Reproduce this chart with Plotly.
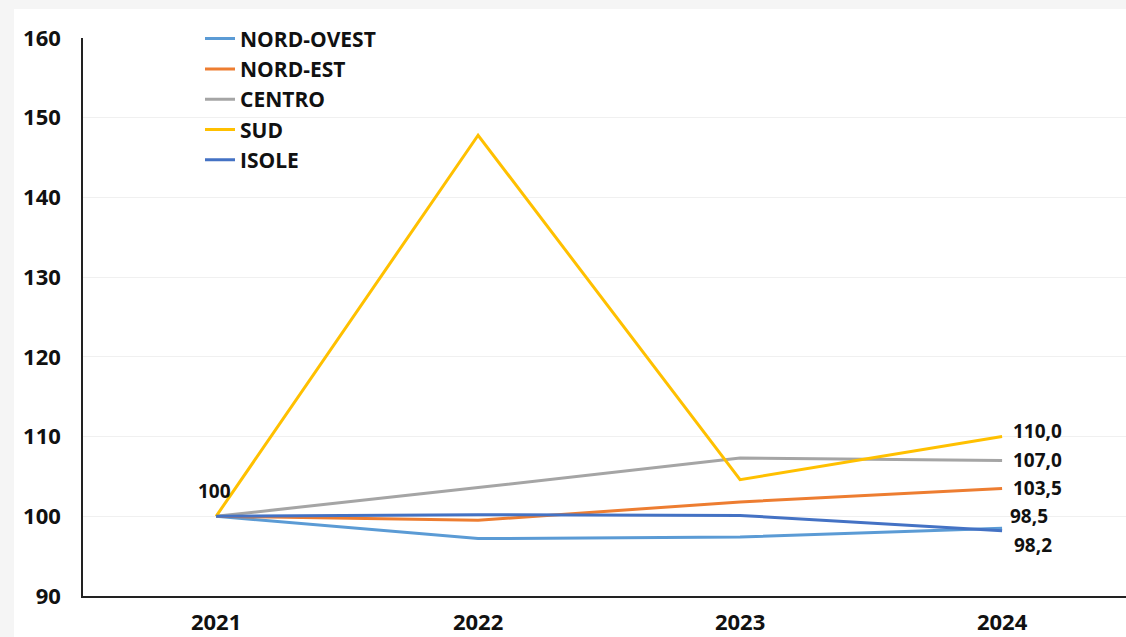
import plotly.graph_objects as go

years = ["2021", "2022", "2023", "2024"]
nord_ovest = [100, 97.2, 97.4, 98.5]
nord_est = [100, 99.5, 101.8, 103.5]
centro = [100, 103.6, 107.3, 107.0]
sud = [100, 147.8, 104.6, 110.0]
isole = [100, 100.2, 100.1, 98.2]

series = [
    ("NORD-OVEST", nord_ovest, "#5B9BD5"),
    ("NORD-EST", nord_est, "#ED7D31"),
    ("CENTRO", centro, "#A5A5A5"),
    ("SUD", sud, "#FFC000"),
    ("ISOLE", isole, "#4472C4"),
]

end_labels = [
    ("SUD", "110,0", 6, 9),
    ("CENTRO", "107,0", 0, 9),
    ("NORD-EST", "103,5", 0, 9),
    ("NORD-OVEST", "98,5", 12, 6),
    ("ISOLE", "98,2", -14, 10),
]

FONT = "Open Sans"
FS = 22
fig = go.Figure()
for i, (name, vals, color) in enumerate(series):
    fig.add_trace(go.Scatter(
        x=years, y=vals, name=name, mode="lines",
        line=dict(color=color, width=3),
        legendgroup=f"g{i}",
    ))

lookup = {n: v for n, v, _ in series}
last = len(years) - 1
for name, txt, ys, xs in end_labels:
    fig.add_annotation(x=last, y=lookup[name][-1], xref="x", yref="y",
                       text=f"<b>{txt}</b>",
                       showarrow=False, xanchor="left", xshift=xs, yshift=ys,
                       font=dict(family=FONT, size=19, color="#111"))
fig.add_annotation(x=0, y=nord_ovest[0], xref="x", yref="y",
                   text="<b>100</b>", showarrow=False,
                   yshift=25, xshift=-2, font=dict(family=FONT, size=19, color="#111"))

W, H = 1126, 637
ml, mr, mt, mb = 83, 0, 38, 41
pw, ph = W - ml - mr, H - mt - mb
fig.add_shape(type="rect", xref="paper", yref="paper", layer="below",
              x0=(14 - ml) / pw, x1=1.01, y0=-mb / ph - 0.01, y1=(H - mb - 9) / ph,
              fillcolor="white", line=dict(width=0))

fig.update_layout(
    width=W, height=H,
    margin=dict(l=ml, r=mr, t=mt, b=mb, autoexpand=False),
    paper_bgcolor="#F5F5F5", plot_bgcolor="white",
    font=dict(family=FONT, size=FS, color="#111"),
    legend=dict(x=(200 - ml) / pw, y=1.035, xanchor="left", yanchor="top",
                bgcolor="rgba(0,0,0,0)", tracegroupgap=0,
                font=dict(family=FONT, size=21, weight="bold"), itemwidth=30),
    xaxis=dict(type="category", range=[-0.508, 3.473], showgrid=False,
               showline=True, linecolor="#222", linewidth=2, ticks="",
               automargin=False,
               tickfont=dict(family=FONT, size=FS, weight="bold"), ticklabelstandoff=6),
    yaxis=dict(range=[90, 160], dtick=10, showgrid=True, gridcolor="#F0F0F0",
               showline=True, linecolor="#222", linewidth=1.5, ticks="",
               zeroline=False, automargin=False,
               tickfont=dict(family=FONT, size=FS, weight="bold"), ticklabelstandoff=16),
)

fig.write_html("out.html", config={"displayModeBar": False},
               post_script="document.body.style.margin='0';document.body.style.overflow='hidden';")
